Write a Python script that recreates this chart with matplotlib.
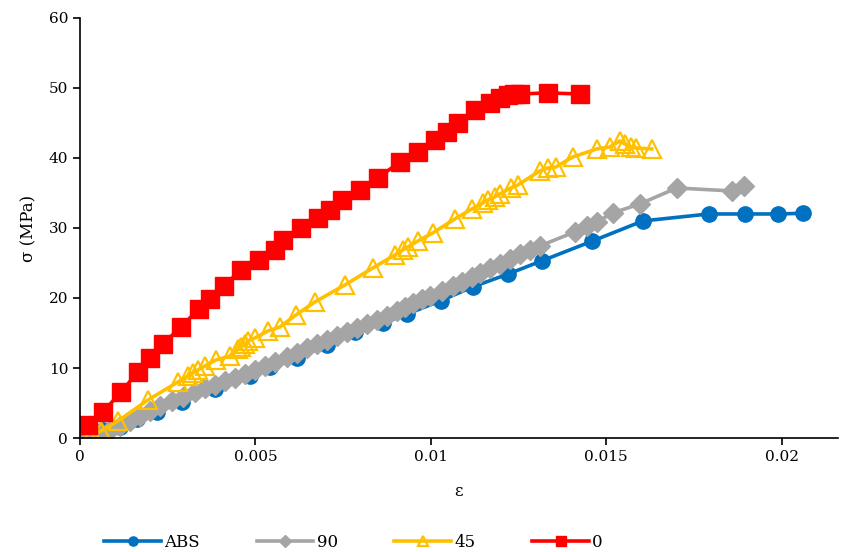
import matplotlib.pyplot as plt

# strain / stress readings for each specimen
abs_eps = [0.000228, 0.000655, 0.00114, 0.00162, 0.00219, 0.00291, 0.00385, 0.00484,
           0.00541, 0.00618, 0.00704, 0.00783, 0.00863, 0.00932, 0.01028, 0.0112,
           0.01219, 0.01316, 0.01459, 0.01604, 0.01792, 0.01895, 0.01991, 0.0206]
abs_sig = [0.43, 1.14, 1.57, 2.71, 3.71, 5.14, 7.0, 8.86,
           10.1, 11.4, 13.3, 15.1, 16.4, 17.7, 19.6, 21.6,
           23.4, 25.3, 28.1, 31.0, 32.0, 32.0, 32.0, 32.1]

d90_eps = [0.000285, 0.00057, 0.000855, 0.00114, 0.001425, 0.00171, 0.001994, 0.002279,
           0.002621, 0.002934, 0.003276, 0.003561, 0.003846, 0.004131, 0.004416, 0.004701,
           0.004986, 0.005271, 0.005556, 0.005897, 0.006182, 0.006467, 0.006752, 0.007037,
           0.007322, 0.007607, 0.007892, 0.008177, 0.008462, 0.008746, 0.009031, 0.009259,
           0.009487, 0.009744, 0.009972, 0.010313, 0.010627, 0.010883, 0.011168, 0.011396,
           0.011681, 0.011966, 0.012251, 0.012536, 0.012821, 0.013105, 0.014103, 0.014444,
           0.014729, 0.015185, 0.015954, 0.017009, 0.018575, 0.018917]
d90_sig = [0.14, 0.57, 1.14, 1.71, 2.43, 3.14, 3.86, 4.57,
           5.29, 5.86, 6.57, 7.14, 7.57, 8.14, 8.57, 9.14,
           9.71, 10.29, 10.86, 11.57, 12.14, 12.86, 13.43, 14.0,
           14.57, 15.14, 15.71, 16.29, 16.86, 17.43, 18.14, 18.71,
           19.29, 19.86, 20.29, 21.0, 21.71, 22.29, 23.0, 23.57,
           24.29, 24.86, 25.57, 26.29, 26.86, 27.43, 29.43, 30.29,
           30.86, 32.14, 33.43, 35.71, 35.29, 36.0]

d45_eps = [0.000342, 0.000598, 0.001083, 0.001937, 0.002792, 0.003077, 0.003219, 0.003362,
           0.003561, 0.003875, 0.004274, 0.004501, 0.004587, 0.004701, 0.004786, 0.004986,
           0.005356, 0.005698, 0.006154, 0.006695, 0.00755, 0.008348, 0.008974, 0.009202,
           0.009345, 0.00963, 0.010057, 0.010684, 0.011168, 0.011481, 0.011624, 0.011823,
           0.011966, 0.012279, 0.012479, 0.013105, 0.013333, 0.013561, 0.014046, 0.014729,
           0.0151, 0.015385, 0.015527, 0.015698, 0.01584, 0.016296]
d45_sig = [0.57, 1.0, 2.43, 5.43, 8.0, 8.86, 9.29, 9.71,
           10.29, 11.14, 11.71, 12.71, 13.0, 13.43, 13.86, 14.29,
           15.29, 15.86, 17.57, 19.43, 21.86, 24.29, 26.14, 26.86,
           27.29, 28.14, 29.29, 31.29, 32.71, 33.57, 34.0, 34.43,
           34.86, 35.71, 36.14, 38.14, 38.57, 38.71, 40.14, 41.29,
           41.57, 42.43, 42.0, 41.57, 41.43, 41.29]

d0_eps = [0.000228, 0.000655, 0.001168, 0.001652, 0.001994, 0.002365, 0.002877, 0.00339,
          0.003704, 0.004103, 0.004587, 0.0051, 0.005556, 0.005783, 0.006296, 0.00678,
          0.007123, 0.007464, 0.007977, 0.00849, 0.009117, 0.00963, 0.010114, 0.010456,
          0.010769, 0.011254, 0.011681, 0.011966, 0.012194, 0.012365, 0.012536, 0.013333,
          0.014245]
d0_sig = [1.86, 3.71, 6.57, 9.43, 11.43, 13.43, 15.86, 18.43,
          19.86, 21.71, 24.0, 25.43, 26.86, 28.29, 30.0, 31.43,
          32.57, 34.0, 35.43, 37.14, 39.43, 40.86, 42.57, 43.71,
          45.0, 46.86, 47.86, 48.57, 49.0, 49.14, 49.14, 49.29,
          49.14]

plt.rcParams['font.family'] = ['DejaVu Serif']

fig = plt.figure(figsize=(8.42, 5.52), dpi=100)
ax = fig.add_axes([0.095, 0.2065, 0.9, 0.761])

ax.plot(abs_eps, abs_sig, color='#0070C0', lw=2.6, marker='o', ms=11, label='ABS')
ax.plot(d90_eps, d90_sig, color='#A5A5A5', lw=2.6, marker='D', ms=10, label='90')
ax.plot(d45_eps, d45_sig, color='#FFC000', lw=2.6, marker='^', ms=13, mfc='none',
        mew=1.6, label='45')
ax.plot(d0_eps, d0_sig, color='#FF0000', lw=2.6, marker='s', ms=13, label='0')

ax.set_xlim(0, 0.0216)
ax.set_ylim(0, 60)
ax.set_xticks([0, 0.005, 0.01, 0.015, 0.02])
ax.set_xticklabels(['0', '0.005', '0.01', '0.015', '0.02'])
ax.set_yticks(range(0, 61, 10))
ax.tick_params(labelsize=11, length=5, width=1.2, direction='out')
ax.spines['top'].set_visible(False)
ax.spines['right'].set_visible(False)
ax.spines['left'].set_linewidth(1.2)
ax.spines['bottom'].set_linewidth(1.2)
ax.set_xlabel('ε', fontsize=12, labelpad=14)
ax.set_ylabel('σ (MPa)', fontsize=12, labelpad=8)

fig.legend(loc='lower center', bbox_to_anchor=(0.42, -0.025), ncol=4, frameon=False,
           fontsize=12, handlelength=3.4, columnspacing=3.4, handletextpad=0.2,
           markerscale=0.6)

fig.savefig('out.png', dpi=100)
